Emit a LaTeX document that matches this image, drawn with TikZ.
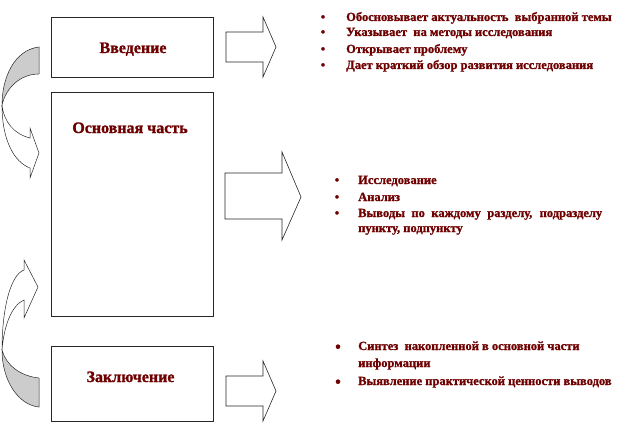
\documentclass[tikz,border=0pt]{standalone}
\usepackage{fontspec}
\setmainfont{Liberation Serif}[BoldFeatures={FakeBold=1.2}]
\definecolor{txt}{RGB}{110,0,0}
\definecolor{band}{RGB}{204,204,204}
\begin{document}
\begin{tikzpicture}[x=1pt,y=-1pt,
  box/.style={draw=black!85,line width=0.8pt,fill=white,inner sep=0pt},
  head/.style={font=\bfseries\fontsize{16}{18}\selectfont,text=txt,inner sep=0pt,anchor=base},
  itm/.style={font=\bfseries\fontsize{12.5}{15}\selectfont,text=txt,inner sep=0pt,anchor=base west},
  bul/.style={font=\bfseries\fontsize{12.5}{15}\selectfont,text=txt,inner sep=0pt,anchor=base},
  bigbul/.style={font=\bfseries\fontsize{16}{18}\selectfont,text=txt,inner sep=0pt,anchor=base},
  blk/.style={draw=black!85,line width=0.6pt,fill=white,line join=miter},
  curv/.style={draw=black!85,line width=0.5pt}]
\useasboundingbox (0,0) rectangle (639,425);

% boxes
\node[box,minimum width=162pt,minimum height=60pt] (intro) at (132,47) {};
\node[box,minimum width=162pt,minimum height=224pt] (main) at (132,204) {};
\node[box,minimum width=162pt,minimum height=75pt] (concl) at (132,383.5) {};
\node[head] (lintro) at (133,53) {Введение};
\node[head] (lmain) at (130,133) {Основная часть};
\node[head] (lconcl) at (130.5,382) {Заключение};

% block arrows
\draw[blk] (226,32) -- (263,32) -- (263,17) -- (276,47) -- (263,77) -- (263,62) -- (226,62) -- cycle;
\draw[blk] (225,173) -- (282,173) -- (282,152) -- (301,197) -- (282,240) -- (282,219) -- (225,219) -- cycle;
\draw[blk] (226,376) -- (263,376) -- (263,361) -- (276,391) -- (263,421) -- (263,406) -- (226,406) -- cycle;

% curved arrow, top
\draw[curv,fill=band] (39,47) .. controls (14,50) and (2,78) .. (2,105)
   .. controls (6,88) and (20,74) .. (39,74) -- cycle;
\draw[curv,fill=white] (2,105) .. controls (2,140) and (14,162) .. (30,168)
   -- (30,178) -- (39,153) -- (30,128) -- (30,138)
   .. controls (14,134) and (4,122) .. (2,105) -- cycle;

% curved arrow, bottom
\draw[curv,fill=white] (2,350) .. controls (2,310) and (10,275) .. (24,270)
   -- (24,260) -- (38,287) -- (24,318) -- (24,300)
   .. controls (12,305) and (4,325) .. (2,350) -- cycle;
\draw[curv,fill=band] (2,350) .. controls (2,380) and (18,405) .. (39,407)
   -- (39,378) .. controls (20,376) and (6,365) .. (2,350) -- cycle;

% top list
\node[bul] (tb1) at (323,21) {•};
\node[bul] (tb2) at (323,36) {•};
\node[bul] (tb3) at (323,53) {•};
\node[bul] (tb4) at (323,69) {•};
\node[itm] (t1) at (346,21) {Обосновывает актуальность\ \ выбранной темы};
\node[itm] (t2) at (346,36) {Указывает\ \ на методы исследования};
\node[itm] (t3) at (346,53) {Открывает проблему};
\node[itm] (t4) at (346,69) {Дает краткий обзор развития исследования};

% middle list
\node[bul] (mb1) at (337,184) {•};
\node[bul] (mb2) at (337,201) {•};
\node[bul] (mb3) at (337,217) {•};
\node[itm] (m1) at (358,184) {Исследование};
\node[itm] (m2) at (358,201) {Анализ};
\node[itm] (m3) at (358,217) {\makebox[244pt][s]{Выводы по каждому разделу, подразделу}};
\node[itm] (m4) at (358,232) {пункту, подпункту};

% bottom list
\node[bigbul] (bb1) at (338,352) {•};
\node[bigbul] (bb2) at (338,387) {•};
\node[itm] (b1) at (358,350) {Синтез\ \ накопленной в основной части};
\node[itm] (b2) at (358,367) {информации};
\node[itm] (b3) at (358,385) {Выявление практической ценности выводов};
\end{tikzpicture}
\end{document}
